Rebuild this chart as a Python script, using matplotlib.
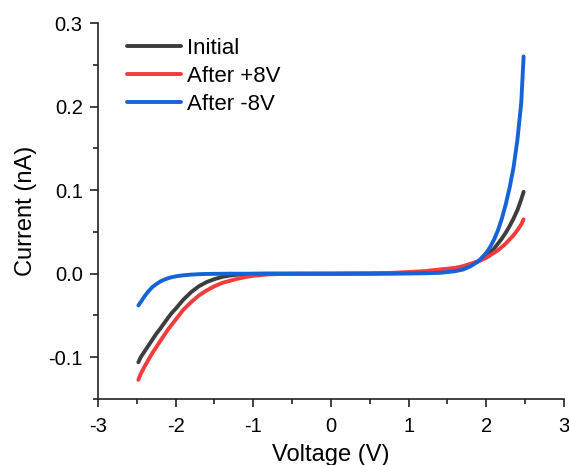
import matplotlib
matplotlib.use('Agg')
import matplotlib.pyplot as plt
from matplotlib.ticker import MultipleLocator, FormatStrFormatter

plt.rcParams['font.family'] = ['Liberation Sans', 'DejaVu Sans']
plt.rcParams['axes.unicode_minus'] = False

# voltage sweep (V)
voltage = [-2.48, -2.45, -2.4, -2.35, -2.3, -2.25, -2.2, -2.15, -2.1, -2.05, -2.0,
           -1.9, -1.8, -1.7, -1.6,
           -1.5, -1.4, -1.3, -1.2, -1.1, -1.0, -0.8, -0.5, 0.0, 0.5,
           0.8, 1.0, 1.2, 1.4, 1.6, 1.7, 1.8, 1.9, 2.0, 2.05, 2.1, 2.15,
           2.2, 2.25, 2.3, 2.35, 2.4, 2.45, 2.48]

# current (nA)
initial = [-0.106, -0.100, -0.093, -0.086, -0.079, -0.072, -0.066, -0.0595, -0.053, -0.047, -0.042,
           -0.031, -0.022, -0.015, -0.010,
           -0.0065, -0.0038, -0.0022, -0.0011, -0.0005, -0.0002, 0.0, 0.0, 0.0, 0.0002,
           0.0005, 0.0008, 0.0015, 0.003, 0.005, 0.007, 0.010, 0.015, 0.021, 0.025, 0.030, 0.036,
           0.042, 0.049, 0.057, 0.066, 0.076, 0.089, 0.098]
after_pos = [-0.127, -0.120, -0.111, -0.103, -0.095, -0.088, -0.081, -0.074, -0.067, -0.061, -0.055,
             -0.043, -0.034, -0.026, -0.020,
             -0.015, -0.011, -0.0085, -0.006, -0.004, -0.0025, -0.0008, -0.0001, 0.0, 0.0003,
             0.001, 0.002, 0.003, 0.005, 0.007, 0.009, 0.012, 0.015, 0.019, 0.022, 0.025, 0.028,
             0.032, 0.036, 0.041, 0.046, 0.052, 0.059, 0.065]
after_neg = [-0.038, -0.034, -0.027, -0.021, -0.016, -0.0125, -0.0095, -0.0073, -0.0055, -0.0042, -0.0032,
             -0.0019, -0.0011, -0.0006, -0.0003,
             -0.0002, -0.0001, 0.0, 0.0, 0.0, 0.0, 0.0, 0.0, 0.0, 0.0,
             0.0001, 0.0002, 0.0005, 0.001, 0.003, 0.005, 0.009, 0.015, 0.025, 0.032, 0.041, 0.052,
             0.066, 0.083, 0.103, 0.127, 0.160, 0.205, 0.260]

labels = ['Initial', 'After +8V', 'After -8V']
colors = ['#3d3d3d', '#f23b3b', '#1663d8']

fig = plt.figure(figsize=(5.69, 4.65), dpi=100)
ax = fig.add_axes([0.1722, 0.1419, 0.8190, 0.8086])

for ys, lab, c in zip([initial, after_pos, after_neg], labels, colors):
    ax.plot(voltage, ys, color=c, lw=2.8, label=lab, solid_capstyle='round',
            solid_joinstyle='round')

ax.set_xlim(-3, 3)
ax.set_ylim(-0.15, 0.3)
ax.xaxis.set_major_locator(MultipleLocator(1))
ax.xaxis.set_minor_locator(MultipleLocator(0.5))
ax.yaxis.set_major_locator(MultipleLocator(0.1))
ax.yaxis.set_minor_locator(MultipleLocator(0.05))
ax.yaxis.set_major_formatter(FormatStrFormatter('%.1f'))
ax.xaxis.set_major_formatter(FormatStrFormatter('%d'))

for side in ['top', 'right']:
    ax.spines[side].set_visible(False)
for side in ['left', 'bottom']:
    ax.spines[side].set_linewidth(1.2)
    ax.spines[side].set_color('#222222')

ax.tick_params(which='major', direction='out', length=6, width=1.2, labelsize=14.5,
               color='#222222', pad=5)
ax.tick_params(axis='x', which='major', pad=7)
ax.tick_params(which='minor', direction='out', length=3.5, width=1.2, color='#222222')

ax.set_xlabel('Voltage (V)', fontsize=17, labelpad=6)
ax.set_ylabel('Current (nA)', fontsize=17, labelpad=8)

ax.legend(loc='upper left', bbox_to_anchor=(0.044, 0.985), frameon=False, fontsize=16,
          handlelength=2.4, handletextpad=0.3, labelspacing=0.33, borderaxespad=0)

fig.savefig('out.png', dpi=100)
